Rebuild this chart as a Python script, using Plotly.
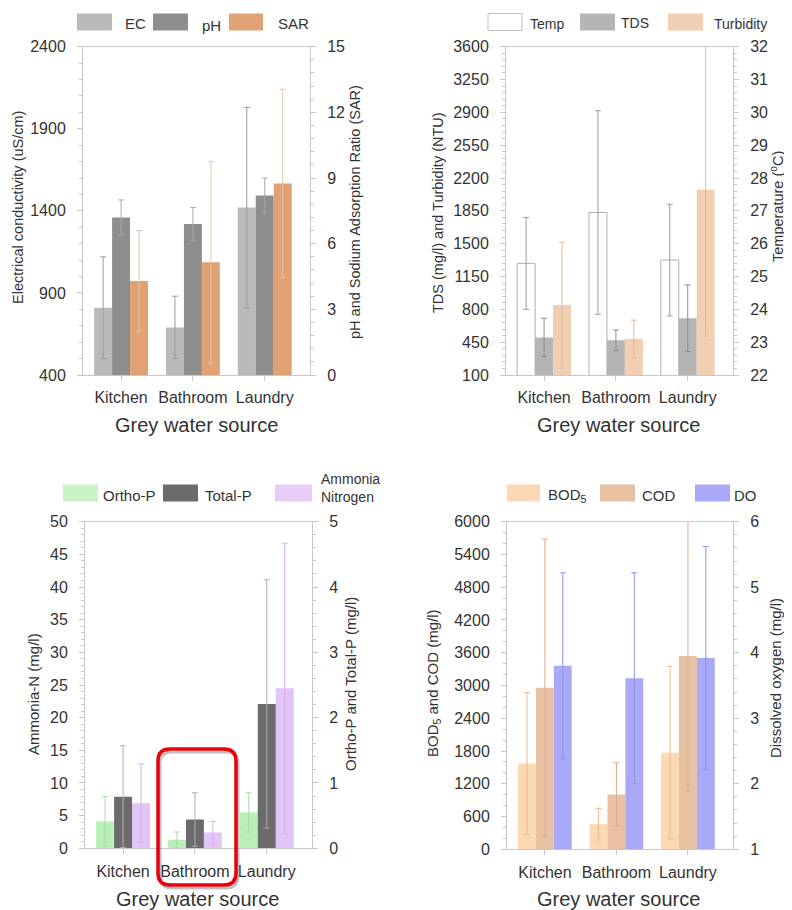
import plotly.graph_objects as go

W, H = 792, 910
OFF = 8  # page body margin in the viewer

# ---------------- data ----------------
sources = ["Kitchen", "Bathroom", "Laundry"]

ec = [810, 690, 1420]
ec_err = [310, 190, 610]
ph = [7.2, 6.9, 8.2]
ph_err = [0.8, 0.75, 0.8]
sar = [4.3, 5.15, 8.75]
sar_err = [2.3, 4.6, 4.3]

temp = [25.4, 26.95, 25.5]
temp_err = [1.4, 3.1, 1.7]
tds = [500, 470, 705]
tds_err = [205, 110, 355]
turb = [845, 485, 2075]
turb_err = [670, 200, 1560]

ortho_p = [0.41, 0.13, 0.55]
ortho_p_err = [0.38, 0.12, 0.3]
total_p = [0.79, 0.44, 2.21]
total_p_err = [0.78, 0.41, 1.9]
ammonia = [6.9, 2.4, 24.5]
ammonia_err = [6.0, 1.7, 22.2]

bod5 = [1570, 460, 1770]
bod5_err = [1300, 290, 1580]
cod = [2960, 1005, 3540]
cod_err = [2720, 580, 2480]
do = [3.8, 3.61, 3.92]
do_err = [1.42, 1.61, 1.7]

FONT = "Liberation Sans, Arial, sans-serif"
TXT = "#333333"
AX = "#c8c8c8"


def px(x):
    return (x - OFF) / W


def py(y):
    return 1 - (y - OFF) / H


fig = go.Figure()

BW = 0.25
OFFS = [-0.375, -0.125, 0.125]


def add_bar(xa, ya, vals, errs, i, fill, ecol, line=None):
    fig.add_trace(go.Bar(
        x=sources, y=vals, xaxis=xa, yaxis=ya, width=BW, offset=OFFS[i],
        marker=dict(color=fill, line=dict(color=line or fill, width=1 if line else 0)),
        error_y=dict(type="data", array=errs, color=ecol, thickness=1, width=3),
        showlegend=False, hoverinfo="skip",
    ))


# Panel 1
add_bar("x", "y", ec, ec_err, 0, "#bababa", "#9a9a9a")
add_bar("x", "y2", ph, ph_err, 1, "#8e8e8e", "#a8a8a8")
add_bar("x", "y2", sar, sar_err, 2, "#e0a274", "#e8c4a4")
# Panel 2
add_bar("x2", "y4", temp, temp_err, 0, "rgba(255,255,255,0)", "#9a9a9a", line="#b0b0b0")
add_bar("x2", "y3", tds, tds_err, 1, "#b5b5b5", "#8c8c8c")
add_bar("x2", "y3", turb, turb_err, 2, "#f1cfb2", "#e4b898")
# Panel 3
add_bar("x3", "y6", ortho_p, ortho_p_err, 0, "#b8f0b8", "#a8dca8")
add_bar("x3", "y6", total_p, total_p_err, 1, "#6b6b6b", "#b0b0b0")
add_bar("x3", "y5", ammonia, ammonia_err, 2, "#e3c4f6", "#d4b0ec")
# Panel 4
add_bar("x4", "y7", bod5, bod5_err, 0, "#fbd9b4", "#eab890")
add_bar("x4", "y7", cod, cod_err, 1, "#e8c1a2", "#dcaa88")
add_bar("x4", "y8", do, do_err, 2, "#a9a9f7", "#9090e4")

# ---------------- axes ----------------
panels = {
    1: dict(x=(83, 310), y=(46.7, 375)),
    2: dict(x=(506, 733), y=(46.7, 375)),
    3: dict(x=(85, 312), y=(521.7, 848.3)),
    4: dict(x=(507, 733), y=(521.7, 849.3)),
}

tickfont = dict(family=FONT, size=16, color=TXT)

xcommon = dict(type="category", range=[-0.53, 2.63], showline=True, linecolor=AX,
               linewidth=1, mirror=True, ticks="outside", ticklen=5, tickcolor=AX,
               tickfont=tickfont, showgrid=False, zeroline=False, fixedrange=True,
               ticklabelstandoff=3, automargin=False)

layout = {}
for p in range(1, 5):
    d = panels[p]
    xname = "xaxis" if p == 1 else f"xaxis{p}"
    yl = 2 * p - 1
    layout[xname] = dict(xcommon, domain=[px(d["x"][0]), px(d["x"][1])],
                         anchor="y" if yl == 1 else f"y{yl}")

yspec = {
    1: dict(range=[400, 2400], dtick=500, tick0=400, minor=100),
    2: dict(range=[0, 15], dtick=3, tick0=0, minor=0.6),
    3: dict(range=[100, 3600], dtick=350, tick0=100, minor=70),
    4: dict(range=[22, 32], dtick=1, tick0=22, minor=0.2),
    5: dict(range=[0, 50], dtick=5, tick0=0, minor=1),
    6: dict(range=[0, 5], dtick=1, tick0=0, minor=0.2),
    7: dict(range=[0, 6000], dtick=600, tick0=0, minor=200),
    8: dict(range=[1, 6], dtick=1, tick0=1, minor=0.2),
}

for p in range(1, 5):
    d = panels[p]
    ydom = [py(d["y"][1]), py(d["y"][0])]
    xa = "x" if p == 1 else f"x{p}"
    for side, yi in (("left", 2 * p - 1), ("right", 2 * p)):
        s = yspec[yi]
        ax = dict(domain=ydom, anchor=xa, side=side, range=s["range"], dtick=s["dtick"],
                  tick0=s["tick0"], showline=True, linecolor=AX, linewidth=1,
                  ticks="outside", ticklen=5, tickcolor=AX, tickfont=tickfont,
                  showgrid=False, zeroline=False, fixedrange=True, ticklabelstandoff=8,
                  automargin=False,
                  minor=dict(dtick=s["minor"], tick0=s["tick0"], ticks="outside",
                             ticklen=3, tickcolor=AX, showgrid=False))
        if side == "right":
            ax["overlaying"] = "y" if (2 * p - 1) == 1 else f"y{2 * p - 1}"
        layout["yaxis" if yi == 1 else f"yaxis{yi}"] = ax

fig.update_layout(**layout)

# ---------------- annotations (titles) ----------------
ann = []


def text(x, y, t, size=15, angle=0, xanchor="center", align="center"):
    ann.append(dict(x=px(x), y=py(y), xref="paper", yref="paper", text=t, showarrow=False,
                    textangle=angle, xanchor=xanchor, yanchor="middle", align=align,
                    font=dict(family=FONT, size=size, color=TXT)))


# axis titles
text(18, 208, "Electrical conductivity (uS/cm)", 14.5, -90)
text(355, 212, "pH and Sodium Adsorption Ratio (SAR)", 14.5, -90)
text(438, 213, "TDS (mg/l) and Turbidity (NTU)", 14.5, -90)
text(777, 207, "Temperature (<sup>o</sup>C)", 14.5, -90)
text(33, 694, "Ammonia-N (mg/l)", 15, -90)
text(350, 684, "Ortho-P and Total-P (mg/l)", 15, -90)
text(433, 683, "BOD<sub>5</sub> and COD (mg/l)", 15, -90)
text(775, 678, "Dissolved oxygen (mg/l)", 15, -90)

text(196, 425, "Grey water source", 20)
text(618, 425, "Grey water source", 20)
text(197, 899, "Grey water source", 20)
text(618, 899, "Grey water source", 20)

# ---------------- legends (drawn) ----------------
shapes = []


def legend_box(x0, x1, yc, fill, line=None, h=17):
    shapes.append(dict(type="rect", xref="paper", yref="paper",
                       x0=px(x0), x1=px(x1), y0=py(yc + h / 2), y1=py(yc - h / 2),
                       fillcolor=fill, line=dict(color=line or fill, width=1 if line else 0)))


legend_box(77, 112, 22, "#bababa")
text(123, 23, "EC", 15, xanchor="left")
legend_box(153, 188, 22, "#8e8e8e")
text(200, 25, "pH", 15, xanchor="left")
legend_box(229, 263, 22, "#e0a274")
text(276, 23, "SAR", 15, xanchor="left")

legend_box(488, 522, 22, "#ffffff", line="#c0c0c0")
text(528, 24, "Temp", 14, xanchor="left")
legend_box(580, 615, 22, "#b5b5b5")
text(619, 23, "TDS", 14, xanchor="left")
legend_box(668, 703, 22, "#f1cfb2")
text(712, 24, "Turbidity", 14, xanchor="left")

legend_box(63, 98, 493, "#c8f4c8")
text(101, 495, "Ortho-P", 15, xanchor="left")
legend_box(163, 198, 493, "#6b6b6b")
text(203, 495, "Total-P", 15, xanchor="left")
legend_box(275, 312, 493, "#e8cdf8")
text(319, 488, "Ammonia<br>Nitrogen", 14, xanchor="left", align="left")

legend_box(507, 540, 493, "#fbd9b4")
text(546, 495, "BOD<sub>5</sub>", 15, xanchor="left")
legend_box(600, 635, 493, "#e8c1a2")
text(640, 495, "COD", 15, xanchor="left")
legend_box(695, 730, 493, "#a9a9f7")
text(732, 495, "DO", 15, xanchor="left")


# ---------------- red highlight box ----------------
def rounded(x0, y0, x1, y1, r):
    X = lambda v: f"{px(v):.5f}"
    Y = lambda v: f"{py(v):.5f}"
    return (f"M {X(x0 + r)} {Y(y0)} L {X(x1 - r)} {Y(y0)} Q {X(x1)} {Y(y0)} {X(x1)} {Y(y0 + r)} "
            f"L {X(x1)} {Y(y1 - r)} Q {X(x1)} {Y(y1)} {X(x1 - r)} {Y(y1)} "
            f"L {X(x0 + r)} {Y(y1)} Q {X(x0)} {Y(y1)} {X(x0)} {Y(y1 - r)} "
            f"L {X(x0)} {Y(y0 + r)} Q {X(x0)} {Y(y0)} {X(x0 + r)} {Y(y0)} Z")


shapes.append(dict(type="path", xref="paper", yref="paper", path=rounded(160, 752, 238, 888, 12),
                   line=dict(color="rgba(150,150,150,0.6)", width=3)))
shapes.append(dict(type="path", xref="paper", yref="paper", path=rounded(158, 749, 236, 885, 12),
                   line=dict(color="#e8000b", width=3.5)))

fig.update_layout(
    width=W, height=H, margin=dict(l=0, r=0, t=0, b=0, autoexpand=False),
    paper_bgcolor="white", plot_bgcolor="white",
    showlegend=False, barmode="overlay",
    annotations=ann, shapes=shapes,
    font=dict(family=FONT, color=TXT),
)

fig.write_html("out.html")
